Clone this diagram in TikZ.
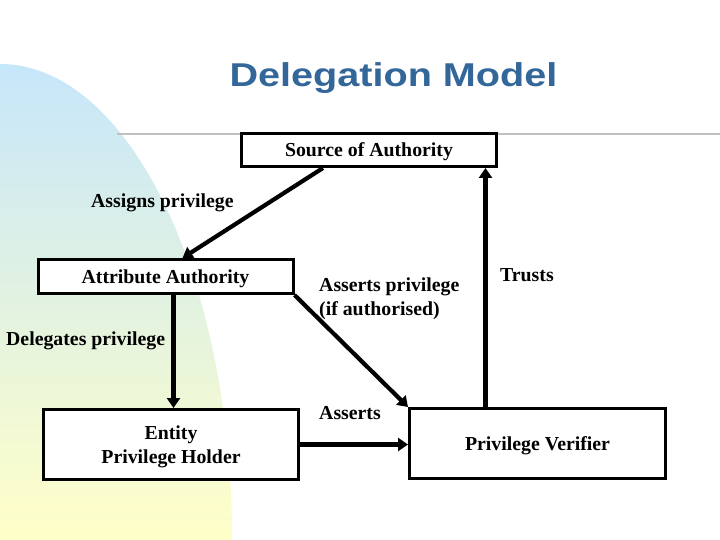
\documentclass[tikz,border=0pt]{standalone}
\usepackage{fontspec}
\setmainfont{Liberation Serif}
\newfontfamily\titlefont{Liberation Sans}
\usepackage{xcolor}
\usetikzlibrary{arrows.meta,positioning}
\definecolor{titleblue}{RGB}{51,102,153}
\definecolor{skytop}{RGB}{198,230,250}
\definecolor{paleyellow}{RGB}{255,255,200}
\definecolor{rulegray}{RGB}{192,192,192}
\newcommand{\lbl}{\fontsize{19.8}{24}\selectfont\bfseries}

\tikzset{
  box/.style={draw,fill=white,line width=3pt,minimum width=255pt,font=\lbl,align=center,inner sep=0pt,text depth=0pt},
  link/.style={line width=4.2pt,-{Triangle[length=10pt,width=13pt]}},
  txt/.style={font=\lbl,align=left,inner sep=0pt,anchor=west}
}

\begin{document}
\begin{tikzpicture}[x=1pt,y=-1pt]
      \useasboundingbox[fill=white] (0,0) rectangle (720,540);
      % background swoosh and rule
      \shade[top color=skytop,bottom color=paleyellow] (0,540) -- (232,540)
          arc[start angle=0,end angle=-90,x radius=232,y radius=476] -- cycle;
      \draw[rulegray,line width=2pt] (117,134) -- (720,134);
      \node[anchor=base,text=titleblue] (title) at (393.5,87)
          {\scalebox{1.2}[1]{\titlefont\fontsize{33}{38}\selectfont\bfseries Delegation Model}};
      % boxes
      \node[box,minimum height=33pt] (soa) at (369,150) {Source of Authority};
      \node[box,minimum height=34pt] (aa) at (165.5,276.5) {Attribute Authority};
      \node[box,minimum height=70pt] (holder) at (171,444.5) {Entity\\Privilege Holder};
      \node[box,minimum height=70pt,minimum width=256pt] (verifier) at (537.5,443.5) {Privilege Verifier};
      % labels
      \node[txt] (assigns) at (91,203) {Assigns privilege};
      \node[txt] (delegates) at (6,341) {Delegates privilege};
      \node[txt] (assertsp) at (319,299) {Asserts privilege\\(if authorised)};
      \node[txt] (trusts) at (500,275) {Trusts};
      \node[txt] (asserts) at (319,413) {Asserts};
      % connectors
      \draw[link] ([xshift=83pt]soa.south west) -- ([xshift=17pt]aa.north);
      \draw[link] ([xshift=8pt]aa.south) -- ([xshift=8pt]aa.south |- holder.north);
      \draw[link] (aa.south east) -- (verifier.north west);
      \draw[link] ([xshift=-52pt]verifier.north) -- ([xshift=-52pt]verifier.north |- soa.south);
      \draw[link] (holder.east) -- (holder.east -| verifier.west);
\end{tikzpicture}
\end{document}
